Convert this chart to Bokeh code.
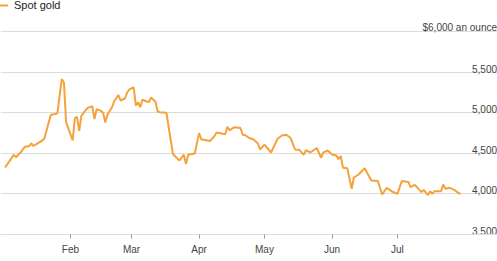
from datetime import datetime, timedelta

import pandas as pd
from bokeh.plotting import figure
from bokeh.models import (ColumnDataSource, Range1d, FixedTicker, DatetimeTickFormatter,
                          Legend, LegendItem, Label)
from bokeh.core.properties import value
from bokeh.embed import file_html
from bokeh.resources import INLINE

# ---------------- data ----------------
dates = [
    "2026-01-02", "2026-01-06", "2026-01-07", "2026-01-09", "2026-01-11", "2026-01-13",
    "2026-01-14", "2026-01-15", "2026-01-16", "2026-01-19", "2026-01-20", "2026-01-23",
    "2026-01-25", "2026-01-26", "2026-01-28", "2026-01-29", "2026-01-30", "2026-02-02",
    "2026-02-03", "2026-02-04", "2026-02-05", "2026-02-06", "2026-02-08", "2026-02-09",
    "2026-02-11", "2026-02-12", "2026-02-13", "2026-02-15", "2026-02-16", "2026-02-17",
    "2026-02-18", "2026-02-20", "2026-02-21", "2026-02-23", "2026-02-24", "2026-02-26",
    "2026-02-27", "2026-02-28", "2026-03-02", "2026-03-03", "2026-03-04", "2026-03-05",
    "2026-03-06", "2026-03-08", "2026-03-09", "2026-03-10", "2026-03-12", "2026-03-13",
    "2026-03-14", "2026-03-17", "2026-03-20", "2026-03-23", "2026-03-25", "2026-03-26",
    "2026-03-27", "2026-03-30", "2026-04-01", "2026-04-02", "2026-04-06", "2026-04-08",
    "2026-04-09", "2026-04-13", "2026-04-14", "2026-04-15", "2026-04-17", "2026-04-20",
    "2026-04-21", "2026-04-22", "2026-04-24", "2026-04-26", "2026-04-28", "2026-04-29",
    "2026-05-01", "2026-05-04", "2026-05-07", "2026-05-09", "2026-05-11", "2026-05-13",
    "2026-05-15", "2026-05-17", "2026-05-19", "2026-05-20", "2026-05-22", "2026-05-25",
    "2026-05-27", "2026-05-28", "2026-05-30", "2026-06-01", "2026-06-03", "2026-06-04",
    "2026-06-05", "2026-06-06", "2026-06-08", "2026-06-10", "2026-06-11", "2026-06-13",
    "2026-06-16", "2026-06-19", "2026-06-22", "2026-06-24", "2026-06-26", "2026-06-29",
    "2026-07-01", "2026-07-03", "2026-07-06", "2026-07-07", "2026-07-09", "2026-07-12",
    "2026-07-13", "2026-07-15", "2026-07-16", "2026-07-17", "2026-07-18", "2026-07-21",
    "2026-07-22", "2026-07-23", "2026-07-25", "2026-07-27", "2026-07-29", "2026-07-30",
]
spot_gold = [
    4325, 4481, 4452, 4506, 4580, 4586,
    4621, 4590, 4608, 4655, 4682, 4975,
    4984, 4993, 5413, 5372, 4883, 4658,
    4931, 4949, 4775, 4962, 5033, 5060,
    5079, 4922, 5042, 5023, 4996, 4879,
    4978, 5064, 5138, 5218, 5150, 5175,
    5249, 5286, 5313, 5085, 5129, 5068,
    5160, 5138, 5132, 5187, 5134, 5015,
    5006, 4999, 4491, 4411, 4483, 4368,
    4481, 4498, 4748, 4672, 4651, 4709,
    4756, 4735, 4828, 4783, 4821, 4812,
    4728, 4725, 4688, 4670, 4621, 4547,
    4606, 4510, 4679, 4719, 4729, 4688,
    4547, 4543, 4481, 4538, 4510, 4565,
    4445, 4512, 4534, 4485, 4473, 4426,
    4467, 4321, 4315, 4063, 4202, 4236,
    4315, 4165, 4159, 3993, 4073, 4023,
    4001, 4159, 4147, 4082, 4112, 4021,
    4050, 3986, 4033, 4001, 4033, 4033,
    4116, 4063, 4075, 4050, 4011, 4001,
]
series_name = "Spot gold"
month_ticks = ["2026-02-01", "2026-03-01", "2026-04-01", "2026-05-01", "2026-06-01", "2026-07-01"]
y_ticks = [3500, 4000, 4500, 5000, 5500, 6000]
y_tick_labels = ["3,500", "4,000", "4,500", "5,000", "5,500", "$6,000 an ounce"]
year_label = "2026"

# ---------------- style ----------------
ORANGE = "#f5a23a"
GRID = "#dcdcdc"
TEXT = "#444444"
FONT = "Liberation Sans"

x = pd.to_datetime(dates)
src = ColumnDataSource(dict(x=x, y=spot_gold))

x_start = datetime(2026, 1, 1) - timedelta(days=1.1)
x_end = datetime(2026, 1, 1) + timedelta(days=226.9)

p = figure(width=497, height=261, x_axis_type="datetime",
           x_range=Range1d(x_start, x_end), y_range=Range1d(3500, 6381.7),
           output_backend="svg", toolbar_location=None, y_axis_location=None,
           min_border_left=0, min_border_right=0, min_border_top=0, min_border_bottom=27)
p.outline_line_color = None
p.background_fill_color = "white"
p.border_fill_color = "white"

# grid
p.xgrid.visible = False
p.ygrid.ticker = FixedTicker(ticks=y_ticks)
p.ygrid.grid_line_color = GRID
p.ygrid.grid_line_width = 1

# x axis
ax = p.xaxis[0]
ax.ticker = FixedTicker(ticks=[pd.Timestamp(d).value / 1e6 for d in month_ticks])
ax.formatter = DatetimeTickFormatter(months="%b", days="%b", years="%b")
ax.axis_line_color = GRID
ax.major_tick_line_color = "#999999"
ax.major_tick_in = 0
ax.major_tick_out = 4
ax.minor_tick_line_color = None
ax.major_label_standoff = 5
ax.major_label_text_font = FONT
ax.major_label_text_font_size = "10px"
ax.major_label_text_color = TEXT

# line
line_r = p.line("x", "y", source=src, line_color=ORANGE, line_width=2)
icon_r = p.scatter("x", "y", source=src, marker="dash", size=0, angle=1.0,
                   line_color=ORANGE, line_width=2)

# y tick labels inside the plot, right aligned above each gridline
lab_src = ColumnDataSource(dict(x=[x_end] * len(y_ticks), y=y_ticks, t=y_tick_labels))
p.text("x", "y", text="t", source=lab_src, text_align="right", text_baseline="alphabetic",
       y_offset=-3.5, x_offset=-0.5, text_font=value(FONT), text_font_size="10px",
       text_color=TEXT)

# year label under the data span
mid = x[0] + (x[-1] - x[0]) / 2
p.add_layout(Label(x=mid, y=-15.5, x_units="data", y_units="screen", text=year_label,
                   text_align="center", text_baseline="top", text_font=FONT,
                   text_font_size="10px", text_color=TEXT))

legend = Legend(items=[LegendItem(label=series_name, renderers=[icon_r])],
                location=(-8, 218), orientation="horizontal",
                padding=0, margin=0, spacing=0,
                glyph_width=22, glyph_height=22, label_height=22, label_standoff=-1,
                label_text_font=FONT, label_text_font_size="11px",
                label_text_color="#222222",
                border_line_color=None, background_fill_alpha=0)
p.add_layout(legend)

open("out.html", "w").write(file_html(p, INLINE))
